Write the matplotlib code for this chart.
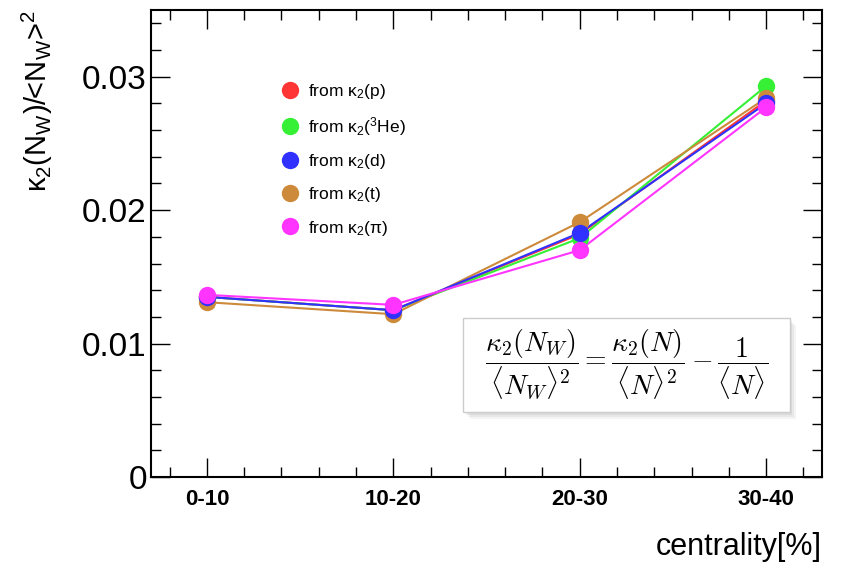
import numpy as np
import matplotlib
matplotlib.use("Agg")
import matplotlib.pyplot as plt
from matplotlib.patches import Rectangle
from matplotlib.ticker import MultipleLocator

# ---- data ----
centrality = ["0-10", "10-20", "20-30", "30-40"]
k_p   = [0.0135, 0.0125, 0.0182, 0.0282]
k_he3 = [0.0135, 0.0125, 0.0179, 0.0293]
k_d   = [0.0135, 0.0125, 0.0183, 0.0280]
k_t   = [0.0131, 0.0122, 0.0191, 0.0284]
k_pi  = [0.01365, 0.0129, 0.0170, 0.0277]

series = [
    # (values, colour, legend label, draw order)
    (k_p,   "#ff3535", "from κ$_2$(p)", 0),
    (k_he3, "#35f035", "from κ$_2$($^3$He)", 1),
    (k_d,   "#3030ff", "from κ$_2$(d)", 3),
    (k_t,   "#cd8a3a", "from κ$_2$(t)", 2),
    (k_pi,  "#ff35ff", "from κ$_2$(π)", 4),
]

plt.rcParams.update({
    "font.family": "Liberation Sans",
    "mathtext.fontset": "custom",
    "mathtext.rm": "Liberation Sans",
    "mathtext.it": "Liberation Sans:italic",
    "mathtext.bf": "Liberation Sans:bold",
})

fig = plt.figure(figsize=(8.46, 5.63), dpi=100)
ax = fig.add_axes([0.1785, 0.1528, 0.7931, 0.8294])

x = np.arange(len(centrality))
handles = []
for vals, c, lab, z in series:
    ax.plot(x, vals, "-", color=c, lw=1.5, zorder=2 + z * 0.1)
    h, = ax.plot(x, vals, "o", color=c, ms=12.5, mec="none", label=lab, zorder=3 + z * 0.1)
    handles.append(h)

ax.set_xlim(-0.3, 3.3)
ax.set_ylim(0, 0.035)
ax.set_xticks(x)
ax.set_xticklabels(centrality, fontsize=16, fontweight="bold")
ax.xaxis.set_minor_locator(MultipleLocator(0.2))
ax.yaxis.set_minor_locator(MultipleLocator(0.002))
ax.set_yticks([0, 0.01, 0.02, 0.03])
ax.set_yticklabels(["0", "0.01", "0.02", "0.03"], fontsize=24)
ax.tick_params(which="both", direction="in", top=True, right=True, width=1.0)
ax.tick_params(which="major", length=14)
ax.tick_params(which="minor", length=7)
ax.tick_params(axis="x", which="major", pad=9)
ax.tick_params(axis="y", which="major", pad=3)
for s in ax.spines.values():
    s.set_linewidth(1.5)

ax.set_xlabel("centrality[%]", fontsize=22, loc="right")
ax.xaxis.set_label_coords(1.0, -0.118)
ax.set_ylabel(r"κ$_2$(N$_\mathrm{W}$)/<N$_\mathrm{W}$>$^2$", fontsize=21, loc="top")
ax.yaxis.set_label_coords(-0.143, 1.0)

ax.legend(handles=handles, loc="upper left", bbox_to_anchor=(0.168, 0.88),
          frameon=False, fontsize=12.5, handletextpad=0.45, labelspacing=0.82,
          handlelength=1.2)

# formula box with soft shadow
bx, by, bw, bh = 0.465, 0.139, 0.487, 0.201
for i, a in enumerate([0.10, 0.12, 0.16]):
    off = 0.004 + 0.003 * (2 - i)
    ax.add_patch(Rectangle((bx + off, by - off * 1.4), bw, bh, transform=ax.transAxes,
                           facecolor="#999999", edgecolor="none", alpha=a, zorder=5))
ax.add_patch(Rectangle((bx, by), bw, bh, transform=ax.transAxes,
                       facecolor="white", edgecolor="#cccccc", lw=1.0, zorder=6))
ax.text(bx + bw / 2, by + bh / 2,
        r"$\dfrac{\kappa_2(N_W)}{\langle N_W\rangle^2} = \dfrac{\kappa_2(N)}{\langle N\rangle^2} - \dfrac{1}{\langle N\rangle}$",
        transform=ax.transAxes, ha="center", va="center", fontsize=20,
        math_fontfamily="cm", zorder=7)

fig.savefig("out.png", dpi=100, facecolor="white")
